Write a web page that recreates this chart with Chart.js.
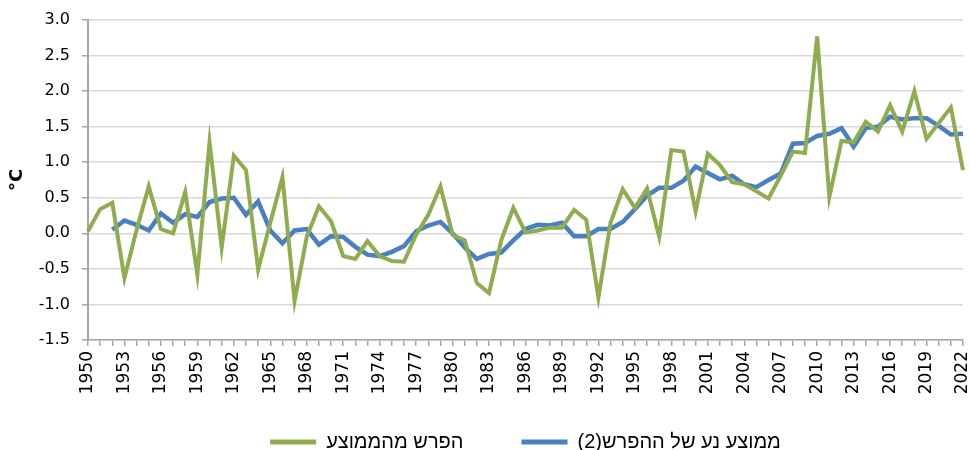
<!DOCTYPE html>
<html lang="he">
<head>
<meta charset="utf-8">
<title>Temperature anomaly</title>
<script src="https://cdn.jsdelivr.net/npm/chart.js@4/dist/chart.umd.min.js"></script>
<style>
    html, body { margin: 0; padding: 0; background: #fff; }
    #wrap { width: 970px; height: 450px; }
</style>
</head>
<body>
<div id="wrap"><canvas id="chart" width="970" height="450"></canvas></div>
<script>
// years on the x axis
const years = [];
for (let y = 1950; y <= 2022; y++) years.push(String(y));

// difference from the average (green)
const diffValues = [
    0.03, 0.34, 0.43, -0.63, 0.05, 0.66, 0.06, 0.00, 0.58, -0.58,
    1.28, -0.20, 1.09, 0.89, -0.51, 0.15, 0.79, -0.95, -0.05, 0.38,
    0.17, -0.32, -0.36, -0.11, -0.32, -0.39, -0.40, -0.02, 0.26, 0.66,
    -0.02, -0.10, -0.70, -0.84, -0.10, 0.36, 0.01, 0.04, 0.08, 0.08,
    0.33, 0.19, -0.90, 0.15, 0.62, 0.36, 0.63, -0.05, 1.17, 1.15,
    0.31, 1.12, 0.96, 0.72, 0.69, 0.59, 0.49, 0.81, 1.15, 1.13,
    2.77, 0.51, 1.30, 1.28, 1.57, 1.43, 1.80, 1.43, 2.00, 1.33,
    1.55, 1.77, 0.89
];

// moving average of the difference (blue), starts in 1952
const movingAvg = [
    null, null, 0.05, 0.18, 0.12, 0.04, 0.28, 0.15, 0.27, 0.23,
    0.44, 0.49, 0.50, 0.26, 0.45, 0.04, -0.14, 0.04, 0.06, -0.16,
    -0.04, -0.05, -0.19, -0.30, -0.32, -0.26, -0.18, 0.03, 0.11, 0.16,
    0.00, -0.20, -0.36, -0.29, -0.27, -0.10, 0.06, 0.12, 0.11, 0.15,
    -0.04, -0.04, 0.06, 0.06, 0.16, 0.34, 0.53, 0.64, 0.64, 0.74,
    0.94, 0.85, 0.76, 0.81, 0.69, 0.65, 0.75, 0.84, 1.26, 1.27,
    1.37, 1.40, 1.48, 1.22, 1.48, 1.50, 1.64, 1.60, 1.62, 1.62,
    1.51, 1.39, 1.40
];

// the trailing RLM keeps "(2)" on the left side, as in right-to-left text
const seriesNames = ['הפרש מהממוצע', 'ממוצע נע של ההפרש(2)\u200F'];
const yTicks = { min: -1.5, max: 3.0, step: 0.5 };
const labelEvery = 3;

const GREEN = '#8fac4f';
const BLUE = '#4a7fc2';
const AXIS = '#a6a6a6';
const GRID = '#d9d9d9';

const ctx = document.getElementById('chart');
new Chart(ctx, {
    type: 'line',
    data: {
        labels: years,
        datasets: [
            {
                label: seriesNames[0],
                data: diffValues,
                borderColor: GREEN,
                backgroundColor: GREEN,
                borderWidth: 4,
                pointRadius: 0,
                tension: 0
            },
            {
                label: seriesNames[1],
                data: movingAvg,
                borderColor: BLUE,
                backgroundColor: BLUE,
                borderWidth: 4.5,
                pointRadius: 0,
                tension: 0
            }
        ]
    },
    options: {
        responsive: false,
        animation: false,
        layout: { padding: { top: 20, right: 7, left: 0, bottom: -12 } },
        plugins: {
            tooltip: { enabled: false },
            legend: {
                position: 'bottom',
                fullSize: false,
                labels: {
                    color: '#000',
                    font: { family: 'Liberation Sans, Arial, sans-serif', size: 20 },
                    boxWidth: 46,
                    boxHeight: 5,
                    padding: 58,
                    generateLabels(chart) {
                        return chart.data.datasets.map((ds, i) => ({
                            text: ds.label,
                            fillStyle: ds.borderColor,
                            strokeStyle: ds.borderColor,
                            lineWidth: 0,
                            hidden: false,
                            datasetIndex: i
                        }));
                    }
                }
            }
        },
        scales: {
            x: {
                type: 'category',
                offset: false,
                border: { color: AXIS, width: 1.5 },
                grid: { drawOnChartArea: false, drawTicks: true, tickLength: 6, tickColor: AXIS, lineWidth: 1.5 },
                ticks: {
                    autoSkip: false,
                    maxRotation: 90,
                    minRotation: 90,
                    padding: 5,
                    color: '#000',
                    font: { family: 'DejaVu Sans', size: 17 },
                    callback(value, index) {
                        return index % labelEvery === 0 ? this.getLabelForValue(value) : '';
                    }
                },
                afterFit(scale) {
                    scale.height = 34;
                    scale.paddingLeft = 0;
                    scale.paddingRight = 0;
                    // labels hang below the short box, so don't clip them to it
                    scale._computeLabelArea = () => undefined;
                }
            },
            y: {
                min: yTicks.min,
                max: yTicks.max,
                border: { color: AXIS, width: 2 },
                grid: { color: GRID, lineWidth: 1.5, tickLength: 6, tickColor: AXIS },
                ticks: {
                    stepSize: yTicks.step,
                    padding: 12,
                    color: '#000',
                    font: { family: 'DejaVu Sans', size: 16 },
                    callback: v => v.toFixed(1)
                },
                title: {
                    display: true,
                    text: '°C',
                    color: '#000',
                    font: { family: 'DejaVu Sans', size: 18, weight: 'bold' },
                    padding: { top: 7, bottom: 0 }
                },
                afterFit(scale) {
                    scale.width = 88;
                    scale.paddingTop = 0;
                    scale.paddingBottom = 0;
                }
            }
        }
    }
});
</script>
</body>
</html>
